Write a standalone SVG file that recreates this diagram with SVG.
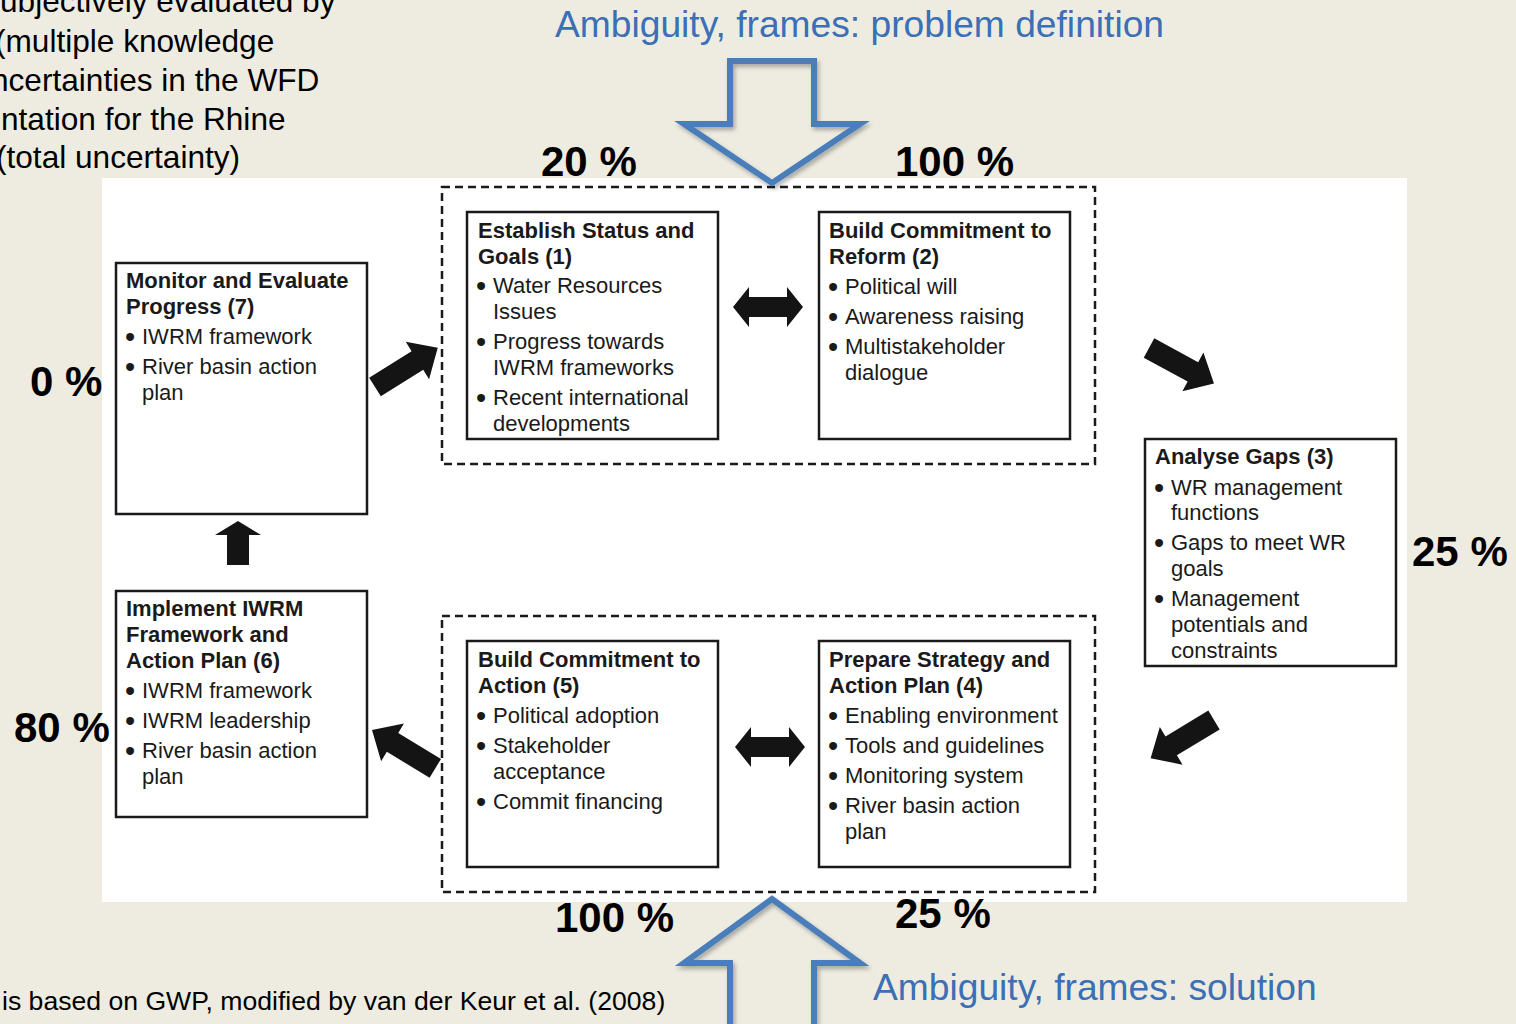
<svg xmlns="http://www.w3.org/2000/svg" width="1516" height="1024" viewBox="0 0 1516 1024">
<style>
.box{fill:#fff;stroke:#1a1a1a;stroke-width:2.5}
.dash{fill:none;stroke:#1a1a1a;stroke-width:2.5;stroke-dasharray:8 5}
.t{font-family:"Liberation Sans",Arial,sans-serif;font-size:22px;fill:#1a1a1a}
.bl{font-family:"Liberation Sans",Arial,sans-serif;font-size:29px;fill:#1a1a1a}
.b{font-weight:bold}
.pct{font-family:"Liberation Sans",Arial,sans-serif;font-size:42px;font-weight:bold;fill:#000}
.note{font-family:"Liberation Sans",Arial,sans-serif;font-size:31.6px;fill:#000}
.blue{font-family:"Liberation Sans",Arial,sans-serif;font-size:37.2px;fill:#3b6fb6}
.big{fill:none;stroke:#4a7ebb;stroke-width:6;stroke-linejoin:miter;stroke-miterlimit:10}
.arr{fill:#141414}
</style>
<defs>
<filter id="sh" x="-20%" y="-20%" width="140%" height="140%">
<feDropShadow dx="2" dy="3" stdDeviation="2" flood-color="#000" flood-opacity="0.3"/>
</filter>
<path id="diag" d="M0,-11 H50 V-22 L74,0 L50,22 V11 H0 Z"/>
</defs>
<rect x="0" y="0" width="1516" height="1024" fill="#eeece1"/>
<rect x="102" y="178" width="1305" height="724" fill="#fff"/>

<g id="note-top">
<text class="note" x="0" y="12">ubjectively evaluated by</text>
<text class="note" x="-5" y="52">(multiple knowledge</text>
<text class="note" x="-9" y="91">ncertainties in the WFD</text>
<text class="note" x="1" y="130">ntation for the Rhine</text>
<text class="note" x="-4" y="168">(total uncertainty)</text>
</g>
<text class="note" x="2" y="1010" style="font-size:26.6px">is based on GWP, modified by van der Keur et al. (2008)</text>

<g id="frame-problem">
<text class="blue" x="555" y="37">Ambiguity, frames: problem definition</text>
</g>
<g id="frame-solution">
<text class="blue" x="873" y="1000">Ambiguity, frames: solution</text>
</g>

<g id="pcts">
<text class="pct" x="541" y="176">20 %</text>
<text class="pct" x="895" y="176">100 %</text>
<text class="pct" x="30" y="396">0 %</text>
<text class="pct" x="1412" y="566">25 %</text>
<text class="pct" x="14" y="742">80 %</text>
<text class="pct" x="555" y="932">100 %</text>
<text class="pct" x="895" y="928">25 %</text>
</g>

<g id="group-top"><rect class="dash" x="442" y="187" width="653" height="277"/></g>
<g id="group-bottom"><rect class="dash" x="442" y="616" width="653" height="276"/></g>

<g id="node-1">
<rect class="box" x="467" y="212" width="251" height="227"/>
<text class="t b" x="478" y="238">Establish Status and</text>
<text class="t b" x="478" y="264">Goals (1)</text>
<text class="bl" x="476" y="296">•</text><text class="t" x="493" y="293">Water Resources</text>
<text class="t" x="493" y="319">Issues</text>
<text class="bl" x="476" y="352">•</text><text class="t" x="493" y="349">Progress towards</text>
<text class="t" x="493" y="375">IWRM frameworks</text>
<text class="bl" x="476" y="408">•</text><text class="t" x="493" y="405">Recent international</text>
<text class="t" x="493" y="431">developments</text>
</g>

<g id="node-2">
<rect class="box" x="819" y="212" width="251" height="227"/>
<text class="t b" x="829" y="238">Build Commitment to</text>
<text class="t b" x="829" y="264">Reform (2)</text>
<text class="bl" x="828" y="297">•</text><text class="t" x="845" y="294">Political will</text>
<text class="bl" x="828" y="327">•</text><text class="t" x="845" y="324">Awareness raising</text>
<text class="bl" x="828" y="357">•</text><text class="t" x="845" y="354">Multistakeholder</text>
<text class="t" x="845" y="380">dialogue</text>
</g>

<g id="node-3">
<rect class="box" x="1145" y="439" width="251" height="227"/>
<text class="t b" x="1155" y="464">Analyse Gaps (3)</text>
<text class="bl" x="1154" y="498">•</text><text class="t" x="1171" y="495">WR management</text>
<text class="t" x="1171" y="520">functions</text>
<text class="bl" x="1154" y="553">•</text><text class="t" x="1171" y="550">Gaps to meet WR</text>
<text class="t" x="1171" y="576">goals</text>
<text class="bl" x="1154" y="609">•</text><text class="t" x="1171" y="606">Management</text>
<text class="t" x="1171" y="632">potentials and</text>
<text class="t" x="1171" y="658">constraints</text>
</g>

<g id="node-4">
<rect class="box" x="819" y="641" width="251" height="226"/>
<text class="t b" x="829" y="667">Prepare Strategy and</text>
<text class="t b" x="829" y="693">Action Plan (4)</text>
<text class="bl" x="828" y="726">•</text><text class="t" x="845" y="723">Enabling environment</text>
<text class="bl" x="828" y="756">•</text><text class="t" x="845" y="753">Tools and guidelines</text>
<text class="bl" x="828" y="786">•</text><text class="t" x="845" y="783">Monitoring system</text>
<text class="bl" x="828" y="816">•</text><text class="t" x="845" y="813">River basin action</text>
<text class="t" x="845" y="839">plan</text>
</g>

<g id="node-5">
<rect class="box" x="467" y="641" width="251" height="226"/>
<text class="t b" x="478" y="667">Build Commitment to</text>
<text class="t b" x="478" y="693">Action (5)</text>
<text class="bl" x="476" y="726">•</text><text class="t" x="493" y="723">Political adoption</text>
<text class="bl" x="476" y="756">•</text><text class="t" x="493" y="753">Stakeholder</text>
<text class="t" x="493" y="779">acceptance</text>
<text class="bl" x="476" y="812">•</text><text class="t" x="493" y="809">Commit financing</text>
</g>

<g id="node-6">
<rect class="box" x="116" y="591" width="251" height="226"/>
<text class="t b" x="126" y="616">Implement IWRM</text>
<text class="t b" x="126" y="642">Framework and</text>
<text class="t b" x="126" y="668">Action Plan (6)</text>
<text class="bl" x="125" y="701">•</text><text class="t" x="142" y="698">IWRM framework</text>
<text class="bl" x="125" y="731">•</text><text class="t" x="142" y="728">IWRM leadership</text>
<text class="bl" x="125" y="761">•</text><text class="t" x="142" y="758">River basin action</text>
<text class="t" x="142" y="784">plan</text>
</g>

<g id="node-7">
<rect class="box" x="116" y="263" width="251" height="251"/>
<text class="t b" x="126" y="288">Monitor and Evaluate</text>
<text class="t b" x="126" y="314">Progress (7)</text>
<text class="bl" x="125" y="347">•</text><text class="t" x="142" y="344">IWRM framework</text>
<text class="bl" x="125" y="377">•</text><text class="t" x="142" y="374">River basin action</text>
<text class="t" x="142" y="400">plan</text>
</g>

<g id="connectors">
<path class="big" filter="url(#sh)" d="M730,61 H814 V124 H860 L772,183 L684,124 H730 Z"/>
<path class="big" filter="url(#sh)" d="M730,1030 V963 H684 L772,899 L860,963 H814 V1030"/>
<use href="#diag" class="arr" transform="translate(375,387) rotate(-32)"/>
<use href="#diag" class="arr" transform="translate(1149,348) rotate(28.6)"/>
<use href="#diag" class="arr" transform="translate(1214,720) rotate(148.9)"/>
<use href="#diag" class="arr" transform="translate(435.3,768.3) rotate(211.2)"/>
<polygon class="arr" points="227,565 249,565 249,535 261,535 238,521 215,535 227,535"/>
<polygon class="arr" points="733,307 749,287 749,297 787,297 787,287 803,307 787,327 787,317 749,317 749,327"/>
<polygon class="arr" points="735,747 751,727 751,737 789,737 789,727 805,747 789,767 789,757 751,757 751,767"/>
</g>
</svg>
